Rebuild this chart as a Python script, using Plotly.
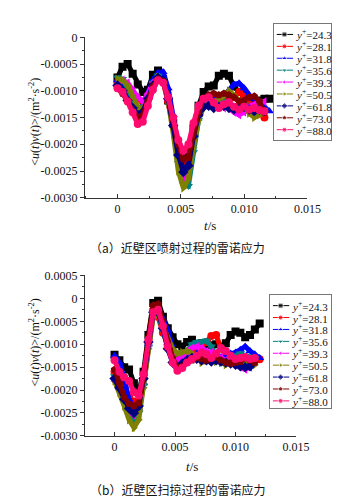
import plotly.graph_objects as go

T = [0, 0.0004, 0.0008, 0.0012, 0.0016, 0.0020, 0.0024, 0.0028, 0.0032, 0.0036,
     0.0040, 0.0044, 0.0048, 0.0052, 0.0056, 0.0060, 0.0064, 0.0068, 0.0072, 0.0076,
     0.0080, 0.0084, 0.0088, 0.0092, 0.0096, 0.0100, 0.0104, 0.0108, 0.0112, 0.0116, 0.0120]

names = ["24.3", "28.1", "31.8", "35.6", "39.3", "50.5", "61.8", "73.0", "88.0"]
colors = ["#000000", "#FF0000", "#0000FF", "#008080", "#FF00FF", "#808000", "#000080", "#800000", "#FF0A6E"]
symbols = ["square", "circle", "triangle-up", "triangle-down", "triangle-left", "triangle-right", "diamond", "pentagon", "circle"]

# panel (a): 近壁区喷射过程
a_243 = [-0.00075, -0.00055, -0.00050, -0.00068, -0.00088, -0.00102, -0.00098, -0.00070, -0.00062, -0.00078, -0.00118, -0.00160, -0.00205, -0.00235, -0.00215, -0.00170, -0.00128, -0.00102, -0.00092, -0.00090, -0.00072, -0.00068, -0.00072, -0.00092, -0.00102, -0.00108, -0.00115, -0.00120, -0.00118, -0.00115, -0.00115]
a_281 = [-0.00085, -0.00092, -0.00100, -0.00105, -0.00115, -0.00120, -0.00110, -0.00090, -0.00075, -0.00082, -0.00120, -0.00165, -0.00215, -0.00250, -0.00230, -0.00175, -0.00135, -0.00115, -0.00112, -0.00115, -0.00118, -0.00120, -0.00115, -0.00112, -0.00102, -0.00110, -0.00125, -0.00135, -0.00140, -0.00150]
a_318 = [-0.00080, -0.00085, -0.00100, -0.00120, -0.00135, -0.00128, -0.00105, -0.00080, -0.00066, -0.00065, -0.00095, -0.00145, -0.00200, -0.00255, -0.00250, -0.00190, -0.00145, -0.00122, -0.00115, -0.00118, -0.00112, -0.00110, -0.00100, -0.00088, -0.00086, -0.00095, -0.00108, -0.00115, -0.00122, -0.00130, -0.00138]
a_356 = [-0.00075, -0.00078, -0.00095, -0.00118, -0.00135, -0.00130, -0.00110, -0.00085, -0.00072, -0.00080, -0.00118, -0.00170, -0.00235, -0.00275, -0.00278, -0.00215, -0.00155, -0.00125, -0.00118, -0.00122, -0.00125, -0.00120, -0.00125, -0.00130, -0.00128, -0.00125, -0.00130, -0.00135, -0.00132, -0.00135]
a_393 = [-0.00088, -0.00080, -0.00085, -0.00100, -0.00112, -0.00120, -0.00105, -0.00085, -0.00075, -0.00082, -0.00118, -0.00165, -0.00225, -0.00265, -0.00245, -0.00185, -0.00140, -0.00122, -0.00118, -0.00125, -0.00128, -0.00132, -0.00130, -0.00140, -0.00145, -0.00140, -0.00130, -0.00125, -0.00122, -0.00120]
a_505 = [-0.00078, -0.00080, -0.00090, -0.00110, -0.00130, -0.00135, -0.00115, -0.00090, -0.00075, -0.00080, -0.00120, -0.00180, -0.00250, -0.00282, -0.00265, -0.00205, -0.00155, -0.00130, -0.00125, -0.00120, -0.00115, -0.00110, -0.00100, -0.00108, -0.00118, -0.00130, -0.00142, -0.00150, -0.00145, -0.00140]
a_618 = [-0.00090, -0.00100, -0.00118, -0.00132, -0.00145, -0.00140, -0.00115, -0.00090, -0.00076, -0.00080, -0.00115, -0.00165, -0.00220, -0.00252, -0.00240, -0.00185, -0.00145, -0.00130, -0.00128, -0.00132, -0.00130, -0.00128, -0.00132, -0.00135, -0.00132, -0.00130, -0.00135, -0.00138, -0.00135, -0.00138]
a_730 = [-0.00095, -0.00105, -0.00120, -0.00138, -0.00150, -0.00145, -0.00120, -0.00092, -0.00078, -0.00082, -0.00112, -0.00155, -0.00200, -0.00228, -0.00225, -0.00180, -0.00140, -0.00115, -0.00108, -0.00105, -0.00108, -0.00105, -0.00108, -0.00112, -0.00120, -0.00118, -0.00112, -0.00110, -0.00120, -0.00140]
a_880 = [-0.00095, -0.00102, -0.00120, -0.00140, -0.00162, -0.00158, -0.00128, -0.00098, -0.00080, -0.00085, -0.00112, -0.00150, -0.00192, -0.00212, -0.00200, -0.00160, -0.00128, -0.00115, -0.00112, -0.00122, -0.00132, -0.00125, -0.00122, -0.00130, -0.00135, -0.00130, -0.00135, -0.00132, -0.00136, -0.00138]

# panel (b): 近壁区扫掠过程
b_243 = [-0.00123, -0.00135, -0.00150, -0.00155, -0.00185, -0.00205, -0.00160, -0.00080, -0.00010, -0.00005, -0.00040, -0.00065, -0.00085, -0.00100, -0.00105, -0.00095, -0.00090, -0.00100, -0.00098, -0.00100, -0.00102, -0.00100, -0.00105, -0.00098, -0.00080, -0.00072, -0.00075, -0.00085, -0.00080, -0.00068, -0.00055]
b_281 = [-0.00160, -0.00175, -0.00195, -0.00215, -0.00225, -0.00225, -0.00175, -0.00095, -0.00025, -0.00040, -0.00075, -0.00100, -0.00125, -0.00140, -0.00135, -0.00125, -0.00120, -0.00110, -0.00100, -0.00095, -0.00082, -0.00080, -0.00110, -0.00120, -0.00125, -0.00130, -0.00128, -0.00130, -0.00132, -0.00130, -0.00133]
b_318 = [-0.00125, -0.00140, -0.00175, -0.00220, -0.00245, -0.00240, -0.00185, -0.00100, -0.00030, -0.00028, -0.00045, -0.00070, -0.00110, -0.00140, -0.00135, -0.00128, -0.00125, -0.00120, -0.00118, -0.00125, -0.00128, -0.00130, -0.00128, -0.00125, -0.00120, -0.00118, -0.00112, -0.00105, -0.00115, -0.00122, -0.00130]
b_356 = [-0.00170, -0.00195, -0.00225, -0.00255, -0.00270, -0.00250, -0.00190, -0.00105, -0.00035, -0.00035, -0.00070, -0.00105, -0.00130, -0.00140, -0.00130, -0.00115, -0.00100, -0.00095, -0.00095, -0.00092, -0.00105, -0.00130, -0.00135, -0.00135, -0.00130, -0.00125, -0.00120, -0.00125, -0.00128, -0.00130]
b_393 = [-0.00180, -0.00200, -0.00225, -0.00245, -0.00255, -0.00240, -0.00180, -0.00100, -0.00035, -0.00030, -0.00060, -0.00095, -0.00125, -0.00135, -0.00125, -0.00115, -0.00108, -0.00105, -0.00108, -0.00115, -0.00118, -0.00122, -0.00130, -0.00135, -0.00140, -0.00145, -0.00150, -0.00155, -0.00150]
b_505 = [-0.00180, -0.00205, -0.00235, -0.00265, -0.00282, -0.00265, -0.00195, -0.00110, -0.00040, -0.00035, -0.00060, -0.00090, -0.00110, -0.00120, -0.00118, -0.00115, -0.00120, -0.00125, -0.00140, -0.00135, -0.00130, -0.00138, -0.00140, -0.00145, -0.00138, -0.00135, -0.00140, -0.00142, -0.00145, -0.00145]
b_618 = [-0.00175, -0.00195, -0.00220, -0.00240, -0.00250, -0.00235, -0.00175, -0.00095, -0.00030, -0.00030, -0.00065, -0.00110, -0.00140, -0.00150, -0.00142, -0.00135, -0.00130, -0.00132, -0.00135, -0.00135, -0.00138, -0.00135, -0.00138, -0.00140, -0.00142, -0.00145, -0.00148, -0.00150, -0.00148]
b_730 = [-0.00155, -0.00185, -0.00215, -0.00230, -0.00235, -0.00228, -0.00170, -0.00085, -0.00015, -0.00012, -0.00050, -0.00095, -0.00130, -0.00150, -0.00148, -0.00140, -0.00135, -0.00130, -0.00132, -0.00135, -0.00130, -0.00128, -0.00135, -0.00140, -0.00142, -0.00140, -0.00138, -0.00130, -0.00135, -0.00140]
b_880 = [-0.00135, -0.00160, -0.00172, -0.00180, -0.00205, -0.00212, -0.00165, -0.00090, -0.00030, -0.00025, -0.00060, -0.00105, -0.00140, -0.00158, -0.00152, -0.00140, -0.00132, -0.00125, -0.00118, -0.00122, -0.00130, -0.00120, -0.00108, -0.00115, -0.00125, -0.00132, -0.00130, -0.00128, -0.00132, -0.00130]

series_a = [a_243, a_281, a_318, a_356, a_393, a_505, a_618, a_730, a_880]
series_b = [b_243, b_281, b_318, b_356, b_393, b_505, b_618, b_730, b_880]

x_ticks = [0, 0.005, 0.010, 0.015]
x_ticktext = ["0", "0.005", "0.010", "0.015"]
ya_ticks = [0, -0.0005, -0.0010, -0.0015, -0.0020, -0.0025, -0.0030]
ya_ticktext = ["0", "-0.0005", "-0.0010", "-0.0015", "-0.0020", "-0.0025", "-0.0030"]
yb_ticks = [0.0005, 0, -0.0005, -0.0010, -0.0015, -0.0020, -0.0025, -0.0030]
yb_ticktext = ["0.0005", "0", "-0.0005", "-0.0010", "-0.0015", "-0.0020", "-0.0025", "-0.0030"]

SERIF = "Liberation Serif"
AX = "#333333"

fig = go.Figure()

for vals_list, xa, ya in [(series_a, "x", "y"), (series_b, "x2", "y2")]:
    for i, vals in enumerate(vals_list):
        fig.add_trace(go.Scatter(
            x=T[:len(vals)], y=vals, xaxis=xa, yaxis=ya, mode="lines+markers",
            line=dict(color=colors[i], width=5),
            marker=dict(symbol=symbols[i], size=8, color=colors[i]),
            showlegend=False, hoverinfo="skip"))

# manual legends (legend boxes)
for xa, ya in [("x3", "y3"), ("x4", "y4")]:
    for i in range(len(names)):
        yy = 11 + 12.25 * i
        fig.add_trace(go.Scatter(
            x=[3, 11, 20], y=[yy, yy, yy], xaxis=xa, yaxis=ya, mode="lines+markers",
            line=dict(color=colors[i], width=1),
            marker=dict(symbol=symbols[i], size=[0, 5, 0], color=colors[i]),
            showlegend=False, hoverinfo="skip"))
        fig.add_annotation(x=20.5, y=yy, xref=xa, yref=ya, xanchor="left", yanchor="middle",
                           text="<i>y</i><sup>+</sup>=" + names[i], showarrow=False,
                           font=dict(family=SERIF, size=11, color="#111"))

common_x = dict(showline=True, linecolor=AX, linewidth=1, ticks="inside", ticklen=4,
                tickcolor=AX, tickvals=x_ticks, ticktext=x_ticktext, showgrid=False,
                zeroline=False, tickfont=dict(family=SERIF, size=12, color="#111"),
                minor=dict(ticks="inside", ticklen=2, dtick=0.0025, tick0=0, tickcolor=AX))
common_y = dict(showline=True, linecolor=AX, linewidth=1, ticks="outside", ticklen=4,
                tickcolor=AX, showgrid=False, zeroline=False,
                tickfont=dict(family=SERIF, size=12, color="#111"),
                minor=dict(ticks="outside", ticklen=2, dtick=0.00025, tick0=0, tickcolor=AX))

W, H = 349, 500
leg_axis = dict(showline=True, mirror=True, linecolor="#777", linewidth=1, showticklabels=False,
                ticks="", showgrid=False, zeroline=False, fixedrange=True)

fig.update_layout(
    width=W, height=H, margin=dict(l=0, r=0, t=0, b=0),
    paper_bgcolor="white", plot_bgcolor="white", showlegend=False,
    xaxis=dict(domain=[80 / W, 312 / W], range=[-0.00258, 0.015], anchor="y", **common_x),
    yaxis=dict(domain=[1 - 188 / H, 1 - 23 / H], range=[-0.003, 0], anchor="x",
               tickvals=ya_ticks, ticktext=ya_ticktext, **common_y),
    xaxis2=dict(domain=[80 / W, 300 / W], range=[-0.00246, 0.015], anchor="y2", **common_x),
    yaxis2=dict(domain=[1 - 433 / H, 1 - 268 / H], range=[-0.003, 0.0005], anchor="x2",
                tickvals=yb_ticks, ticktext=yb_ticktext, **common_y),
    xaxis3=dict(domain=[277 / W, 337 / W], range=[0, 60], anchor="y3", **leg_axis),
    yaxis3=dict(domain=[1 - 129 / H, 1 - 9 / H], range=[120, 0], anchor="x3", **leg_axis),
    xaxis4=dict(domain=[273 / W, 336 / W], range=[0, 63], anchor="y4", **leg_axis),
    yaxis4=dict(domain=[1 - 404 / H, 1 - 288 / H], range=[116, 0], anchor="x4", **leg_axis),
)

ytitle = "&lt;<i>u</i>(<i>t</i>)<i>v</i>(<i>t</i>)&gt;/(m<sup>2</sup>·s<sup>-2</sup>)"
for yc in [110, 337]:
    fig.add_annotation(x=28 / W, y=1 - yc / H, xref="paper", yref="paper", text=ytitle,
                       textangle=-90, showarrow=False, xanchor="center", yanchor="middle",
                       font=dict(family=SERIF, size=12, color="#111"))
for xc, yc in [(210, 217), (192, 465)]:
    fig.add_annotation(x=xc / W, y=1 - yc / H, xref="paper", yref="paper", text="<i>t</i>/s",
                       showarrow=False, xanchor="center", yanchor="middle",
                       font=dict(family=SERIF, size=13, color="#111"))
for yc, cap in [(239, "（a）近壁区喷射过程的雷诺应力"), (488, "（b）近壁区扫掠过程的雷诺应力")]:
    fig.add_annotation(x=177 / W, y=1 - yc / H, xref="paper", yref="paper", text=cap,
                       showarrow=False, xanchor="center", yanchor="middle",
                       font=dict(family="Noto Sans CJK SC", size=12, color="#111"))

fig.write_html("out.html")
